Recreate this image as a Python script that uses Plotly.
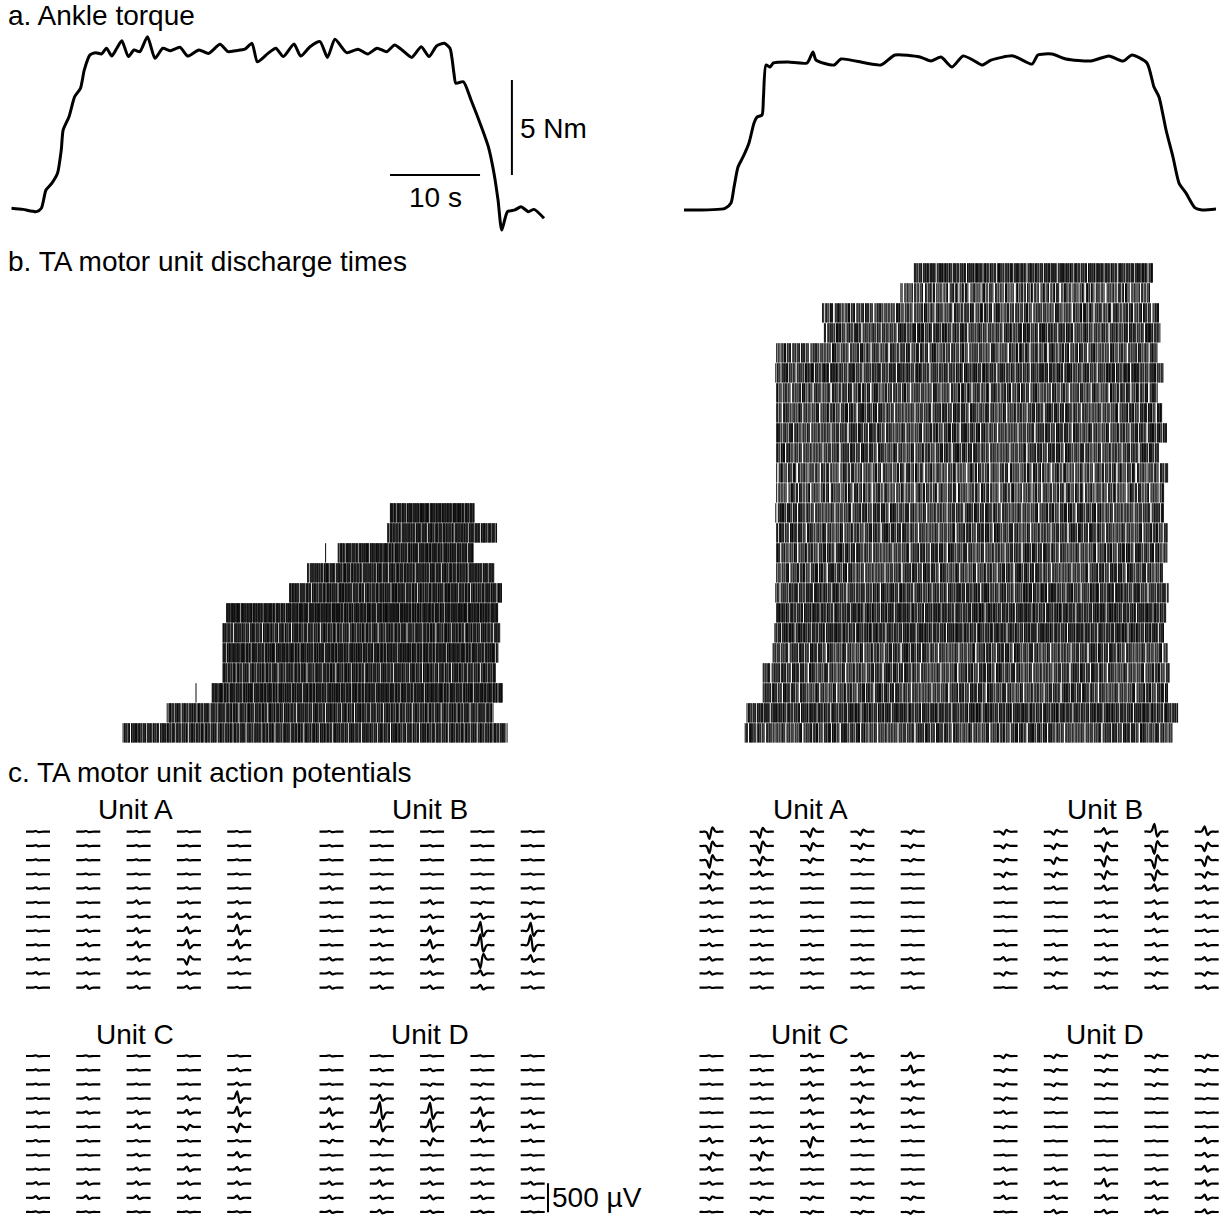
import plotly.graph_objects as go

FIG_W, FIG_H = 1229, 1220
FONT = "Arial, Liberation Sans, sans-serif"
FS = 28

# ---------------- a. Ankle torque (time in s, torque in Nm) ----------------
torque_left_t = [0.0, 1.28, 2.77, 3.32, 3.83, 4.47, 5.11, 5.53, 5.74, 6.39, 7.02, 7.66, 8.09, 8.72,
                 9.37, 10.0, 10.56, 11.14, 11.7, 12.26, 12.98, 13.61, 14.26, 15.11, 15.94, 16.81,
                 17.66, 18.72, 19.58, 20.83, 21.91, 23.17, 24.06, 24.89, 25.94, 26.72, 27.32, 28.5,
                 29.37, 30.21, 31.39, 32.13, 33.17, 34.28, 35.11, 35.94, 37.23, 38.5, 39.58, 40.61,
                 41.7, 42.56, 43.39, 44.47, 45.53, 46.39, 47.23, 48.09, 48.72, 49.16, 49.37, 50.21,
                 51.06, 52.34, 52.98, 53.61, 54.06, 54.47, 55.11, 55.94, 56.61, 57.44, 58.06, 59.17]
torque_left_nm = [0.04, -0.02, -0.14, 0.04, 1.0, 1.35, 1.88, 3.11, 4.16, 4.86, 5.91, 6.35, 7.32, 8.11,
                  8.23, 8.16, 8.46, 8.05, 8.46, 8.86, 8.02, 8.37, 8.28, 9.07, 7.93, 8.46, 8.33, 8.51,
                  8.05, 8.37, 8.19, 8.67, 8.28, 8.33, 8.41, 8.72, 7.75, 8.19, 8.46, 8.02, 8.68, 8.05,
                  8.54, 8.81, 7.98, 8.93, 8.23, 8.41, 8.16, 8.46, 8.28, 8.63, 8.37, 7.98, 8.54, 8.02,
                  8.58, 8.72, 8.46, 7.14, 6.62, 6.7, 5.74, 4.16, 3.28, 1.88, 0.47, -1.11, -0.14, -0.05,
                  0.12, -0.14, -0.02, -0.49]
torque_right_t = [0, 4.56, 5.22, 5.56, 6.0, 6.56, 7.22, 7.78, 8.11, 8.67, 8.83, 9.11, 9.56, 9.94, 11.56,
                  13.67, 14.33, 14.67, 16.67, 17.44, 21.89, 23.44, 26.22, 27.44, 28.56, 29.78, 31.0,
                  32.11, 33.11, 34.11, 36.56, 38.67, 39.33, 40.89, 42.44, 45.22, 47.22, 48.78, 49.78,
                  51.44, 52.22, 52.78, 53.56, 54.33, 55.0, 55.78, 56.78, 57.56, 59.11]
torque_right_nm = [0, 0.09, 0.37, 1.21, 2.26, 2.79, 3.53, 4.58, 4.89, 5.0, 5.95, 7.63, 7.53, 7.74, 7.79,
                   7.74, 8.32, 7.89, 7.63, 7.95, 7.63, 8.16, 8.05, 7.84, 8.05, 7.53, 8.11, 7.89, 7.63,
                   7.89, 8.11, 7.68, 8.16, 8.21, 7.95, 7.84, 8.11, 7.84, 8.16, 7.74, 6.47, 5.95, 4.21,
                   2.79, 1.42, 0.89, 0.11, 0, 0.05]

# ---------------- b. discharge times (rows listed top -> bottom) ----------------
left_onset = [42.1, 41.8, 36.3, 32.9, 30.9, 23.9, 23.5, 23.5, 23.5, 22.3, 17.3, 12.4]
left_offset = [51.5, 53.9, 51.3, 53.7, 54.5, 54.1, 54.3, 54.1, 53.9, 54.6, 53.5, 55.1]
left_rate = [14, 12, 13, 12, 12, 14, 11, 13, 11, 13, 11, 11]
left_early_spike = [None, None, 34.9, None, None, None, None, None, None, 20.5, None, None]

right_onset = [25.6, 24.1, 15.4, 15.6, 10.3, 10.2, 10.3, 10.3, 10.3, 10.3, 10.3, 10.3,
               10.2, 10.3, 10.3, 10.3, 10.2, 10.3, 10.1, 9.9, 8.8, 8.8, 7.0, 6.8]
right_offset = [52.1, 51.8, 52.8, 52.9, 52.7, 53.4, 52.6, 53.1, 53.8, 52.9, 53.8, 53.4,
                53.4, 53.7, 53.7, 53.2, 53.8, 53.7, 53.4, 53.7, 54.0, 53.8, 54.9, 54.3]
right_rate = [10.5, 7, 8, 9, 8, 9.5, 8, 8.5, 8.5, 8.5, 7.5, 7.5, 8.5, 8.5, 8.5, 8.5, 9.5, 10.5, 10.5,
              8.5, 8.5, 8.5, 10.5, 8.5]

isi_pattern = [1.00, 0.82, 1.25, 0.90, 1.60, 0.75, 1.10, 0.95, 2.10, 0.85, 1.05, 0.70, 1.35, 0.92,
               1.00, 1.80, 0.78, 1.15, 0.88, 1.45, 0.80, 1.00, 2.40, 0.90, 1.20, 0.76, 1.05, 0.95,
               1.30, 0.85, 1.70]

# ---------------- c. action potentials (peak-to-peak µV, 12 rows x 5 columns) ----------------
muap_template = [0, 0.01, 0.02, 0.01, 0, -0.01, 0, 0.05, 0.19, 0.46, 0.62, 0.28, -0.19, -0.38, -0.28,
                 -0.12, -0.03, 0.01, 0.02, 0.01, 0, -0.01, 0, 0, 0]

amp_left_A = [[20, 20, 20, 20, 20], [20, 20, 20, 20, 20], [20, 20, 20, 20, 20], [20, 20, 20, 20, 20],
              [30, 30, 30, 30, 20], [20, 20, 60, 40, 40], [20, 40, 40, 80, 100], [20, 40, 80, 110, 170],
              [20, 60, 100, 150, 150], [40, 50, 80, -150, 80], [40, 40, 50, 60, 40], [20, 60, 50, 50, 20]]
amp_left_B = [[20, 20, 20, 20, 20], [20, 20, 20, 20, 20], [20, 20, 20, 20, 20], [20, 20, 20, 20, 20],
              [60, 60, 20, 40, 40], [20, 20, 70, -40, -40], [40, 40, 60, 90, 90], [20, 60, 130, 250, 230],
              [20, 50, 150, 300, 280], [50, 60, 120, -250, 120], [40, 40, 60, 90, 50], [40, 60, 60, 80, 40]]
amp_left_C = [[20, 20, 20, 20, 20], [20, 20, 20, 20, 50], [20, 20, 20, 20, 50], [20, 40, 20, 70, 200],
              [40, 40, 60, 80, 170], [20, 20, 70, -90, -150], [30, 30, 30, 30, 30], [20, 20, 40, 40, 90],
              [20, 20, 50, 80, 70], [40, 60, 60, 60, 60], [50, 60, 60, 60, 60], [20, 20, 20, 20, 20]]
amp_left_D = [[20, 20, 20, 20, 20], [20, 40, 40, 20, 20], [20, -40, -40, -40, 20], [60, 100, 70, 50, 20],
              [130, 300, 280, 150, 70], [100, 200, 220, 180, 70], [-60, -100, -120, 60, 40],
              [20, 20, 20, 20, 20], [50, 60, 60, 50, 50], [60, 90, 60, 60, 50], [60, 60, 70, 60, 60],
              [40, 60, 40, 40, 20]]
amp_right_A = [[-200, -170, -150, -100, -60], [-200, -200, -130, -90, -60], [-220, -150, -80, -50, -40],
               [-120, 80, 40, 20, 15], [90, 50, 20, 15, 15], [50, 40, 15, 15, 15], [50, 50, 40, 20, 15],
               [50, 40, 20, 15, 15], [50, 40, 40, 20, 15], [60, 60, 50, 50, 40], [50, 40, 40, 40, 40],
               [15, 40, 40, 40, 40]]
amp_right_B = [[-80, -80, 100, 220, 150], [-70, -90, -160, -220, -150], [-60, -110, -180, -230, -170],
               [-80, -80, -140, -180, -100], [50, 50, 80, 110, 80], [20, 20, 40, 60, 50],
               [20, 20, 60, 110, 60], [15, 15, 40, 60, 40], [40, 40, 50, 60, 50], [60, 60, 60, 70, 60],
               [-60, -60, -60, -60, -60], [15, 50, 50, 60, 60]]
amp_right_C = [[20, 20, 60, 80, 100], [20, 40, 70, 100, 130], [20, 40, 70, 60, 90], [20, 40, 100, -120, -60],
               [15, 20, 80, 80, 80], [20, 40, 90, 90, 40], [80, 100, -180, 40, 20], [-120, -150, 80, 20, 15],
               [70, 60, 20, 20, 15], [50, 50, 50, 50, 50], [-60, -60, -60, -60, -60], [15, -60, -50, -50, -50]]
amp_right_D = [[-60, -60, -60, -60, -60], [-50, -50, -50, -50, -50], [-50, -50, -50, -50, -40],
               [-50, -40, -20, -20, -20], [50, 20, 15, 15, 20], [-40, 15, 15, 15, 20], [15, 15, 15, 15, 90],
               [15, 15, 20, 20, 70], [50, 50, 50, 40, 100], [60, 70, 130, 70, 90], [60, 60, 80, 70, 90],
               [15, 60, 60, 70, 70]]

unit_titles = ["Unit A", "Unit B", "Unit A", "Unit B", "Unit C", "Unit D", "Unit C", "Unit D"]

# ---------------- layout constants (pixels) ----------------
PX_PER_S = 9.0
PX_PER_NM = 19.0
UV_PER_PX = 500 / 29.0
COL_STEP_MS = 50.3          # 1 ms drawn as 1 px
ROW_STEP_PX = 14.18
ROW_STEP_UV = ROW_STEP_PX * UV_PER_PX


def xdom(p0, p1):
    return [max(0, p0 / FIG_W), min(1, p1 / FIG_W)]


def ydom(top, bottom):
    return [max(0, 1 - bottom / FIG_H), min(1, 1 - top / FIG_H)]


fig = go.Figure()
layout = dict(width=FIG_W, height=FIG_H, margin=dict(l=0, r=0, t=0, b=0),
              paper_bgcolor="white", plot_bgcolor="rgba(0,0,0,0)", showlegend=False)
annotations = []
ax_n = [0]


def new_axes(xr, yr, xd, yd):
    ax_n[0] += 1
    n = ax_n[0]
    sx = "" if n == 1 else str(n)
    layout["xaxis" + sx] = dict(domain=xd, range=xr, visible=False, fixedrange=True,
                                anchor="y" + sx)
    layout["yaxis" + sx] = dict(domain=yd, range=yr, visible=False, fixedrange=True,
                                anchor="x" + sx)
    return "x" + sx, "y" + sx


# ---- torque panels ----
T_RANGE = [-1, 60]
NM_RANGE = [-1.6, 10]


def torque_axes(t0_px, base_px):
    xd = xdom(t0_px + T_RANGE[0] * PX_PER_S, t0_px + T_RANGE[1] * PX_PER_S)
    yd = ydom(base_px - NM_RANGE[1] * PX_PER_NM, base_px - NM_RANGE[0] * PX_PER_NM)
    return new_axes(T_RANGE, NM_RANGE, xd, yd)


xa, ya = torque_axes(11.5, 209)
fig.add_trace(go.Scatter(x=torque_left_t, y=torque_left_nm, mode="lines", xaxis=xa, yaxis=ya,
                         line=dict(color="black", width=3, shape="spline", smoothing=0.6),
                         hoverinfo="skip"))
# scale bars: 10 s and 5 Nm
fig.add_trace(go.Scatter(x=[42.06, 52.06], y=[1.79, 1.79], mode="lines", xaxis=xa, yaxis=ya,
                         line=dict(color="black", width=2), hoverinfo="skip"))
fig.add_trace(go.Scatter(x=[55.6, 55.6], y=[1.79, 6.79], mode="lines", xaxis=xa, yaxis=ya,
                         line=dict(color="black", width=2), hoverinfo="skip"))
annotations.append(dict(x=47.06, y=0.62, xref=xa, yref=ya, text="10 s", showarrow=False,
                        xanchor="center", yanchor="middle", font=dict(size=FS, family=FONT, color="black")))
annotations.append(dict(x=56.3, y=4.26, xref=xa, yref=ya, text="5 Nm", showarrow=False,
                        xanchor="left", yanchor="middle", font=dict(size=FS, family=FONT, color="black")))

xa, ya = torque_axes(684, 210)
fig.add_trace(go.Scatter(x=torque_right_t, y=torque_right_nm, mode="lines", xaxis=xa, yaxis=ya,
                         line=dict(color="black", width=3, shape="spline", smoothing=0.6),
                         hoverinfo="skip"))


# ---- rasters ----
def spike_times(on, off, rate, phase):
    ts, t, k = [], on, phase
    while t <= off:
        ts.append(t)
        t += isi_pattern[k % len(isi_pattern)] / rate
        k += 1
    return ts


def raster(t0_px, top_px, onsets, offsets, rates, extras):
    n = len(onsets)
    xd = xdom(t0_px + T_RANGE[0] * PX_PER_S, t0_px + T_RANGE[1] * PX_PER_S)
    yd = ydom(top_px, top_px + 20 * n)
    xa, ya = new_axes(T_RANGE, [0, n], xd, yd)
    xs, ys = [], []
    for i in range(n):
        row = n - 1 - i
        ts = spike_times(onsets[i], offsets[i], rates[i], i * 7)
        if extras and extras[i] is not None:
            ts = [extras[i]] + ts
        for t in ts:
            xs += [t, t, None]
            ys += [row + 0.02, row + 0.99, None]
    fig.add_trace(go.Scatter(x=xs, y=ys, mode="lines", xaxis=xa, yaxis=ya,
                             line=dict(color="rgb(10,10,10)", width=1), hoverinfo="skip"))


raster(11.5, 503, left_onset, left_offset, left_rate, left_early_spike)
raster(684, 263, right_onset, right_offset, right_rate, None)

# ---- action potential grids ----
grids = [
    (amp_left_A, 26, 831.7, 135),
    (amp_left_B, 319.5, 831.7, 430),
    (amp_right_A, 699.5, 831.7, 810),
    (amp_right_B, 993.5, 831.7, 1105),
    (amp_left_C, 26, 1056, 135),
    (amp_left_D, 319.5, 1056, 430),
    (amp_right_C, 699.5, 1056, 810),
    (amp_right_D, 993.5, 1056, 1105),
]
GX_RANGE = [-6, 232]
for g, (amps, x0, y0, title_x) in enumerate(grids):
    nrows = len(amps)
    pad_top, pad_bot = 16, 8
    yr = [-(nrows - 1) * ROW_STEP_UV - pad_bot * UV_PER_PX, pad_top * UV_PER_PX]
    xd = xdom(x0 + GX_RANGE[0], x0 + GX_RANGE[1])
    yd = ydom(y0 - pad_top, y0 + (nrows - 1) * ROW_STEP_PX + pad_bot)
    xa, ya = new_axes(GX_RANGE, yr, xd, yd)
    xs, ys = [], []
    for r in range(nrows):
        for c in range(5):
            a = amps[r][c]
            for s, v in enumerate(muap_template):
                xs.append(c * COL_STEP_MS + s)
                ys.append(-r * ROW_STEP_UV + a * v)
            xs.append(None)
            ys.append(None)
    fig.add_trace(go.Scatter(x=xs, y=ys, mode="lines", xaxis=xa, yaxis=ya,
                             line=dict(color="black", width=2.2, shape="spline", smoothing=0.5),
                             hoverinfo="skip"))
    annotations.append(dict(x=title_x / FIG_W, y=1 - (y0 - 22) / FIG_H, xref="paper", yref="paper",
                            text=unit_titles[g], showarrow=False, xanchor="center", yanchor="middle",
                            font=dict(size=FS, family=FONT, color="black")))
    if g == 5:
        # 500 µV scale bar
        bx = 228.5
        yb = -(nrows - 1) * ROW_STEP_UV - 0.3 * UV_PER_PX
        fig.add_trace(go.Scatter(x=[bx, bx], y=[yb, yb + 500], mode="lines", xaxis=xa, yaxis=ya,
                                 line=dict(color="black", width=2), hoverinfo="skip"))
        annotations.append(dict(x=bx + 2, y=yb + 250, xref=xa, yref=ya, text="500 µV", showarrow=False,
                                xanchor="left", yanchor="middle",
                                font=dict(size=FS, family=FONT, color="black")))

# ---- section labels ----
for txt, ypx in [("a. Ankle torque", 16), ("b. TA motor unit discharge times", 261),
                 ("c. TA motor unit action potentials", 772)]:
    annotations.append(dict(x=6 / FIG_W, y=1 - ypx / FIG_H, xref="paper", yref="paper", text=txt,
                            showarrow=False, xanchor="left", yanchor="middle",
                            font=dict(size=FS, family=FONT, color="black")))

layout["annotations"] = annotations
fig.update_layout(**layout)
fig.write_html("out.html", config={"displayModeBar": False},
               post_script="document.body.style.margin='0';document.body.style.overflow='hidden';")
